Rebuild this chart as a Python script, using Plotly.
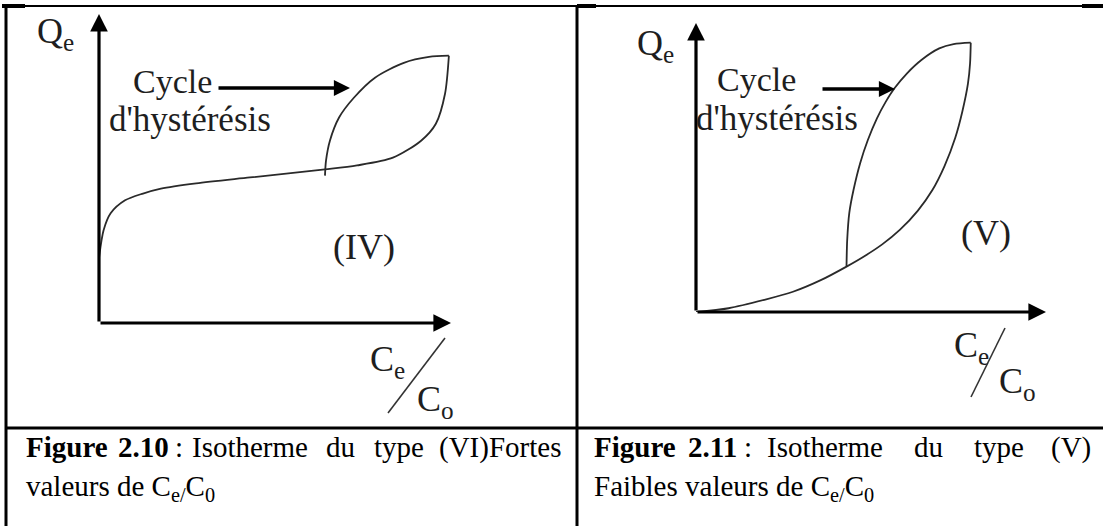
import plotly.graph_objects as go

W, H = 1103, 526

# ---- data (normalised C_e/C_0 on x, Q_e on y) ----
# Figure 2.10 : type (IV) isotherm
iv_main_x = [0.0, 0.013, 0.033, 0.074, 0.125, 0.176, 0.276, 0.429, 0.642, 0.733, 0.835, 0.915, 0.957, 0.983, 0.994]
iv_main_y = [0.21, 0.30, 0.355, 0.397, 0.419, 0.435, 0.452, 0.471, 0.497, 0.510, 0.535, 0.590, 0.645, 0.742, 0.865]
iv_loop_x = [0.642, 0.645, 0.656, 0.682, 0.724, 0.784, 0.866, 0.9375, 0.994]
iv_loop_y = [0.477, 0.526, 0.590, 0.665, 0.729, 0.794, 0.842, 0.861, 0.865]

# Figure 2.11 : type (V) isotherm
v_main_x = [0.0, 0.093, 0.195, 0.277, 0.358, 0.430, 0.481, 0.532, 0.583, 0.634, 0.675, 0.710, 0.741, 0.761, 0.777, 0.783, 0.785]
v_main_y = [0.0, 0.013, 0.042, 0.070, 0.111, 0.157, 0.193, 0.234, 0.285, 0.351, 0.421, 0.505, 0.604, 0.694, 0.790, 0.860, 0.932]
v_loop_x = [0.430, 0.432, 0.438, 0.450, 0.469, 0.491, 0.517, 0.542, 0.567, 0.603, 0.644, 0.695, 0.736, 0.785]
v_loop_y = [0.157, 0.249, 0.343, 0.422, 0.515, 0.595, 0.670, 0.727, 0.774, 0.826, 0.872, 0.912, 0.927, 0.932]

# captions
cap1_words = ["<b>Figure</b>", "<b>2.10</b>", ":", "Isotherme", "du", "type", "(VI)Fortes"]
cap1_line2 = "valeurs de C<sub>e/</sub>C<sub>0</sub>"
cap2_words = ["<b>Figure</b>", "<b>2.11</b>", ":", "Isotherme", "du", "type", "(V)"]
cap2_line2 = "Faibles valeurs de C<sub>e/</sub>C<sub>0</sub>"

SERIF = "Liberation Serif, Times New Roman, serif"
INK = "#1e1e1e"


def PX(x):
    return x / W


def PY(y):
    return 1 - y / H


fig = go.Figure()

fig.update_layout(
    xaxis=dict(domain=[PX(99), PX(451)], range=[0, 1], visible=False, fixedrange=True),
    yaxis=dict(domain=[PY(323), PY(14)], range=[0, 1], visible=False, fixedrange=True),
    xaxis2=dict(domain=[PX(696), PX(1046)], range=[0, 1], visible=False, anchor="y2", fixedrange=True),
    yaxis2=dict(domain=[PY(312), PY(23)], range=[0, 1], visible=False, anchor="x2", fixedrange=True),
)

line_style = dict(color="#2a2a2a", width=1.8, shape="spline", smoothing=0.8)
fig.add_trace(go.Scatter(x=iv_main_x, y=iv_main_y, mode="lines", line=line_style, xaxis="x", yaxis="y", hoverinfo="skip"))
fig.add_trace(go.Scatter(x=iv_loop_x, y=iv_loop_y, mode="lines", line=line_style, xaxis="x", yaxis="y", hoverinfo="skip"))
fig.add_trace(go.Scatter(x=v_main_x, y=v_main_y, mode="lines", line=line_style, xaxis="x2", yaxis="y2", hoverinfo="skip"))
fig.add_trace(go.Scatter(x=v_loop_x, y=v_loop_y, mode="lines", line=line_style, xaxis="x2", yaxis="y2", hoverinfo="skip"))

ann = []
# axis arrows
for xa, ya in (("x", "y"), ("x2", "y2")):
    for tip in ((1, 0), (0, 1)):
        ann.append(dict(x=tip[0], y=tip[1], ax=0, ay=0, xref=xa, yref=ya, axref=xa, ayref=ya,
                        text="", showarrow=True, arrowhead=2, arrowsize=1.1, arrowwidth=3.2,
                        arrowcolor="black", standoff=0, startstandoff=0))

# "Cycle ->" arrows
for tip_x, tail_x, yy in ((350, 217, 88), (895, 821, 89)):
    ann.append(dict(x=PX(tip_x), y=PY(yy), xref="paper", yref="paper", ax=tail_x - tip_x, ay=0,
                    text="", showarrow=True, arrowhead=2, arrowsize=0.95, arrowwidth=3.4,
                    arrowcolor="black", standoff=0))


def label(text, x, y, size=36, anchor="left", color=INK):
    ann.append(dict(x=PX(x), y=PY(y), xref="paper", yref="paper", text=text, showarrow=False,
                    xanchor=anchor, yanchor="middle", font=dict(family=SERIF, size=size, color=color)))


# diagram labels
label("Q<sub>e</sub>", 35, 33)
label("Cycle", 131, 81, size=34)
label("d'hystérésis", 107, 119, size=35)
label("(IV)", 331, 247)
label("C<sub>e</sub>", 368, 361)
label("C<sub>o</sub>", 415, 401)

label("Q<sub>e</sub>", 635, 46)
label("Cycle", 715, 80, size=34)
label("d'hystérésis", 694, 118, size=35)
label("(V)", 959, 233)
label("C<sub>e</sub>", 952, 347)
label("C<sub>o</sub>", 997, 383)

# captions (justified first lines)
CAP = 29
cap1_x = [24, 116, 173, 190, 324, 372, 563]
cap2_x = [592, 686, 742, 765, 912, 972, 1093]
for words, xs in ((cap1_words, cap1_x), (cap2_words, cap2_x)):
    for i, (w, xx) in enumerate(zip(words, xs)):
        label(w, xx, 447, size=CAP, anchor="right" if i == len(words) - 1 else "left", color="black")
label(cap1_line2, 24, 488, size=CAP, color="black")
label(cap2_line2, 592, 488, size=CAP, color="black")

# table rules and fraction slashes
shapes = []


def seg(x0, y0, x1, y1, w, color="black"):
    shapes.append(dict(type="line", xref="paper", yref="paper", x0=PX(x0), y0=PY(y0), x1=PX(x1), y1=PY(y1),
                       line=dict(color=color, width=w)))


seg(4, 6, 1103, 6, 2)
seg(2, 6, 25, 6, 4)
seg(577, 6, 596, 6, 4)
seg(1082, 6, 1103, 6, 4)
seg(6, 5, 6, 526, 3)
seg(577, 5, 577, 526, 3)
seg(5, 428, 1103, 428, 3)
seg(445, 338, 388, 413, 1.6, "#333")
seg(1005, 328, 971, 397, 1.6, "#333")

fig.update_layout(
    width=W, height=H, margin=dict(l=0, r=0, t=0, b=0),
    paper_bgcolor="white", plot_bgcolor="white", showlegend=False,
    annotations=ann, shapes=shapes,
)

fig.write_html("out.html", config={"displayModeBar": False},
               post_script="document.body.style.margin='0px';document.body.style.overflow='hidden';")
